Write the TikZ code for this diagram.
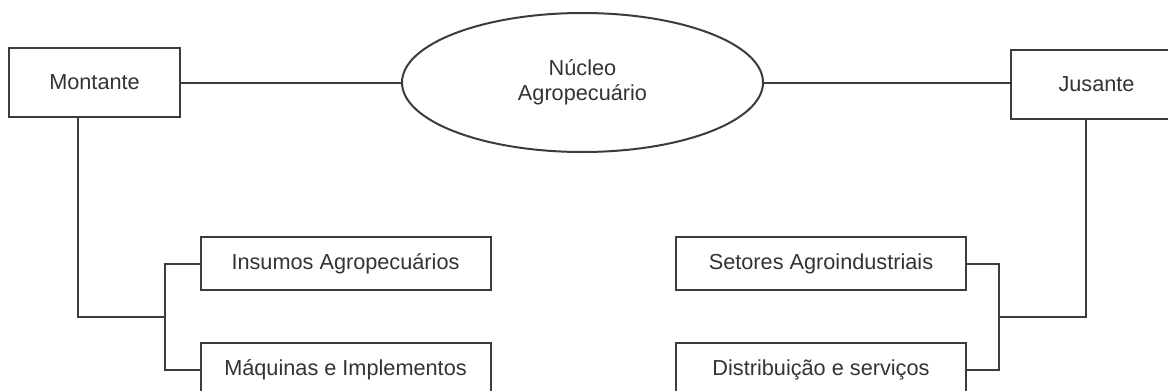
\documentclass[tikz,border=0pt]{standalone}
\usepackage{fontspec}
\setmainfont{Liberation Sans}
\usetikzlibrary{shapes.geometric}
\definecolor{ln}{HTML}{3C3C3C}
\definecolor{tx}{HTML}{333333}
\begin{document}
\begin{tikzpicture}[x=1pt,y=-1pt,
  conn/.style={draw=ln,line width=2pt},
  topbox/.style={draw=ln,line width=2pt,rectangle,minimum width=171pt,minimum height=69pt,inner sep=0pt,text=tx,font=\fontsize{21.7}{25}\selectfont},
  subbox/.style={draw=ln,line width=2pt,rectangle,minimum width=290pt,minimum height=53pt,inner sep=0pt,text=tx,font=\fontsize{21.7}{25}\selectfont},
  core/.style={draw=ln,line width=2pt,ellipse,minimum width=361pt,minimum height=139pt,inner sep=0pt,text=tx,align=center,font=\fontsize{21.7}{25}\selectfont}]
\useasboundingbox (0,0) rectangle (1168,391);
\clip (0,0) rectangle (1168,391);
\fill[white] (0,0) rectangle (1168,391);

\node[topbox] (mont) at (94.5,82.5) {Montante};
\node[core] (nucleo) at (582.5,82.5) {Núcleo\\Agropecuário};
\node[topbox] (jus) at (1096.5,84) {Jusante};

\node[subbox] (ins) at (345.5,263.5) {Insumos Agropecuários};
\node[subbox] (maq) at (345.5,369.5) {Máquinas e Implementos};
\node[subbox] (set) at (821,263.5) {Setores Agroindustriais};
\node[subbox] (dist) at (821,369.5) {Distribuição e serviços};

\coordinate (ld) at (78,317);
\coordinate (lj) at (165,317);
\coordinate (rd) at (1086,317);
\coordinate (rj) at (999,317);

\draw[conn] (mont.east) -- (nucleo.west);
\draw[conn] (nucleo.east) -- (jus.west |- nucleo.east);

\draw[conn] (mont.south -| ld) -- (ld) -- (lj);
\draw[conn] (ins.west) -| (lj) |- (maq.west);

\draw[conn] (jus.south -| rd) -- (rd) -- (rj);
\draw[conn] (set.east) -| (rj) |- (dist.east);
\end{tikzpicture}
\end{document}
